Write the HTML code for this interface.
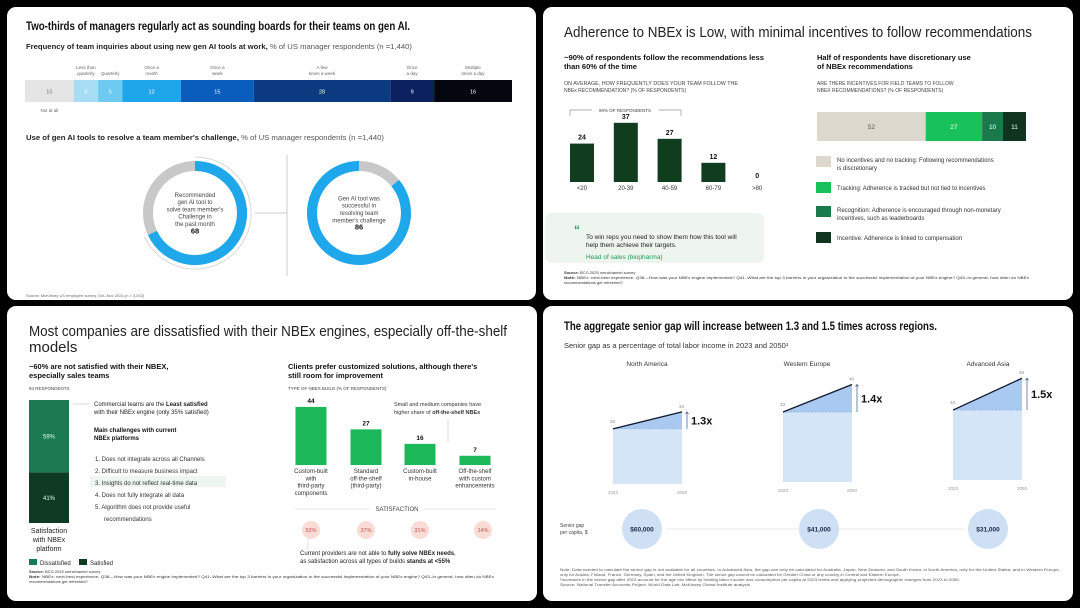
<!DOCTYPE html>
<html><head><meta charset="utf-8"><style>
html,body{margin:0;padding:0;background:#000;}
svg{display:block;font-family:"Liberation Sans",sans-serif;}
</style></head><body>
<svg id="s" width="1080" height="608" viewBox="0 0 1080 608" xmlns="http://www.w3.org/2000/svg">
<rect x="0" y="0" width="1080" height="608" fill="#000"/>
<rect x="7" y="7" width="529" height="293" rx="9" fill="#fff"/>
<rect x="543" y="7" width="530" height="293" rx="9" fill="#fff"/>
<rect x="7" y="306" width="530" height="295" rx="9" fill="#fff"/>
<rect x="543" y="306" width="530" height="295" rx="9" fill="#fff"/>

<!-- TL -->
<text x="26" y="30" font-size="11.5" font-weight="bold" fill="#111" textLength="384" lengthAdjust="spacingAndGlyphs">Two-thirds of managers regularly act as sounding boards for their teams on gen AI.</text>
<text x="26" y="49" font-size="7.5" fill="#222" textLength="386" lengthAdjust="spacingAndGlyphs"><tspan font-weight="bold">Frequency of team inquiries about using new gen AI tools at work,</tspan><tspan fill="#555">  % of US manager respondents  (n =1,440)</tspan></text>
<text x="26" y="140" font-size="7.5" fill="#222" textLength="358" lengthAdjust="spacingAndGlyphs"><tspan font-weight="bold">Use of gen AI tools to resolve a team member's challenge,</tspan><tspan fill="#555">  % of US manager respondents  (n =1,440)</tspan></text>
<line x1="287" y1="155" x2="287" y2="276" stroke="#ccc" stroke-width="1"/>
<line x1="255" y1="213" x2="287" y2="213" stroke="#ccc" stroke-width="1"/>
<text x="26" y="297" font-size="4" fill="#666">Source: McKinsey US employee survey, Oct–Nov 2024 (n = 3,002)</text>

<!-- TR -->
<text x="564" y="37" font-size="15" fill="#222" textLength="468" lengthAdjust="spacingAndGlyphs">Adherence to NBEx is Low, with minimal incentives to follow recommendations</text>
<text x="564" y="60" font-size="7.5" font-weight="bold" fill="#111" textLength="200" lengthAdjust="spacingAndGlyphs">~90% of respondents follow the recommendations less</text>
<text x="564" y="69" font-size="7.5" font-weight="bold" fill="#111">than 60% of the time</text>
<text x="564" y="85" font-size="5" fill="#444" textLength="174" lengthAdjust="spacingAndGlyphs">ON AVERAGE, HOW FREQUENTLY DOES YOUR TEAM FOLLOW THE</text>
<text x="564" y="92" font-size="5" fill="#444">NBEx RECOMMENDATION?   (% OF RESPONDENTS)</text>
<path d="M570 116 V110 H592 M659 110 H681 V116" fill="none" stroke="#999" stroke-width="0.7"/>
<text x="625" y="112" font-size="4.5" fill="#444" text-anchor="middle">90% OF RESPONDENTS</text>
<rect x="545" y="213" width="219" height="50" rx="6" fill="#eef5ef"/>
<text x="574" y="234" font-size="12" font-weight="bold" fill="#2a9d5a">“</text>
<text x="586" y="239" font-size="6.5" fill="#222">To win reps you need to show them how this tool will</text>
<text x="586" y="247" font-size="6.5" fill="#222">help them achieve their targets.</text>
<text x="586" y="259" font-size="6.5" fill="#1e9b50">Head of sales  (biopharma)</text>
<text x="817" y="60" font-size="7.5" font-weight="bold" fill="#111">Half of respondents have discretionary use</text>
<text x="817" y="69" font-size="7.5" font-weight="bold" fill="#111">of NBEx recommendations</text>
<text x="817" y="85" font-size="5" fill="#444">ARE THERE INCENTIVES FOR FIELD TEAMS TO FOLLOW</text>
<text x="817" y="92" font-size="5" fill="#444">NBEX RECOMMENDATIONS?    (% OF RESPONDENTS)</text>
<text x="564" y="274" font-size="4" fill="#333"><tspan font-weight="bold">Source:</tspan> BCG 2025 omnichannel survey</text>
<text x="564" y="279" font-size="4" fill="#333" textLength="465" lengthAdjust="spacingAndGlyphs"><tspan font-weight="bold">Note:</tspan> NBEx: next-best experience. Q38—How was your NBEx engine implemented? Q41–What are the top 3 barriers in your organization to the successful implementation of your NBEx engine? Q43–In general, how often do NBEx</text>
<text x="564" y="284" font-size="4" fill="#333">recommendations get refreshed?</text>

<!-- BL -->
<text x="29" y="336" font-size="15" fill="#222" textLength="478" lengthAdjust="spacingAndGlyphs">Most companies are dissatisfied with their NBEx engines, especially off-the-shelf</text>
<text x="29" y="352" font-size="15" fill="#222">models</text>
<text x="29" y="369" font-size="7.5" font-weight="bold" fill="#111">~60% are not satisfied with their NBEX,</text>
<text x="29" y="378" font-size="7.5" font-weight="bold" fill="#111">especially sales teams</text>
<text x="29" y="390" font-size="4.5" fill="#444">94 RESPONDENTS</text>
<text x="49" y="533" font-size="7" fill="#222" text-anchor="middle">Satisfaction</text>
<text x="49" y="542" font-size="7" fill="#222" text-anchor="middle">with NBEx</text>
<text x="49" y="551" font-size="7" fill="#222" text-anchor="middle">platform</text>
<rect x="29" y="559" width="8" height="6" fill="#1c7a52"/>
<text x="40" y="565" font-size="6" fill="#222">Dissatisfied</text>
<rect x="79" y="559" width="8" height="6" fill="#0f3b22"/>
<text x="90" y="565" font-size="6" fill="#222">Satisfied</text>
<line x1="73" y1="404" x2="89" y2="404" stroke="#ccc" stroke-width="0.7"/>
<text x="94" y="406" font-size="6" fill="#222">Commercial teams are the <tspan font-weight="bold">Least satisfied</tspan></text>
<text x="94" y="414" font-size="6" fill="#222">with their NBEx engine   (only 35% satisfied)</text>
<text x="94" y="432" font-size="6" font-weight="bold" fill="#111">Main challenges with current</text>
<text x="94" y="440" font-size="6" font-weight="bold" fill="#111">NBEx platforms</text>
<rect x="90" y="476" width="136" height="11" fill="#eef6ef"/>
<g font-size="6" fill="#333">
<text x="95" y="461">1.  Does not integrate across all Channels</text>
<text x="95" y="473">2.  Difficult to measure business impact</text>
<text x="95" y="485">3.  Insights do not reflect real-time data</text>
<text x="95" y="497">4.  Does not fully integrate all data</text>
<text x="95" y="509">5.  Algorithm does not provide useful</text>
<text x="104" y="521">recommendations</text>
</g>
<text x="288" y="369" font-size="7.5" font-weight="bold" fill="#111">Clients prefer customized solutions, although there's</text>
<text x="288" y="378" font-size="7.5" font-weight="bold" fill="#111">still room for improvement</text>
<text x="288" y="390" font-size="4.5" fill="#444">TYPE OF NBEX BUILD   (% OF RESPONDENTS)</text>
<text x="394" y="406" font-size="5.5" fill="#333">Small and medium companies have</text>
<text x="394" y="414" font-size="5.5" fill="#333">higher share of <tspan font-weight="bold">off-the-shelf NBEx</tspan></text>
<line x1="448" y1="420" x2="448" y2="442" stroke="#ccc" stroke-width="0.7"/>
<line x1="295" y1="509" x2="370" y2="509" stroke="#ddd" stroke-width="0.8"/>
<line x1="424" y1="509" x2="496" y2="509" stroke="#ddd" stroke-width="0.8"/>
<text x="397" y="511" font-size="6" fill="#444" text-anchor="middle">SATISFACTION</text>
<line x1="308" y1="538" x2="308" y2="550" stroke="#ccc" stroke-width="0.6"/>
<text x="300" y="555" font-size="6" fill="#222">Current providers are not able to <tspan font-weight="bold">fully solve NBEx needs</tspan>,</text>
<text x="300" y="563" font-size="6" fill="#222">as satisfaction across all types of builds <tspan font-weight="bold">stands at &lt;55%</tspan></text>
<text x="29" y="573" font-size="4" fill="#333"><tspan font-weight="bold">Source:</tspan> BCG 2025 omnichannel survey</text>
<text x="29" y="578" font-size="4" fill="#333" textLength="465" lengthAdjust="spacingAndGlyphs"><tspan font-weight="bold">Note:</tspan> NBEx: next-best experience. Q38—How was your NBEx engine implemented? Q41–What are the top 3 barriers in your organization to the successful implementation of your NBEx engine? Q43–In general, how often do NBEx</text>
<text x="29" y="583" font-size="4" fill="#333">recommendations get refreshed?</text>

<!-- BR -->
<text x="564" y="330" font-size="12" font-weight="bold" fill="#111" textLength="373" lengthAdjust="spacingAndGlyphs">The aggregate senior gap will increase between 1.3 and 1.5 times across regions.</text>
<text x="564" y="348" font-size="7.5" fill="#333">Senior gap as a percentage of total labor income in 2023 and 2050¹</text>
<text x="560" y="527" font-size="5" fill="#444">Senior gap</text>
<text x="560" y="534" font-size="5" fill="#444">per capita,   $</text>
<g font-size="3.8" fill="#555">
<text x="560" y="571" textLength="500" lengthAdjust="spacingAndGlyphs">Note: Data needed to calculate the senior gap is not available for all countries. In Advanced Asia, the gap can only be calculated for Australia, Japan, New Zealand, and South Korea; in North America, only for the United States; and in Western Europe,</text>
<text x="560" y="576" textLength="340" lengthAdjust="spacingAndGlyphs">only for Austria, Finland, France, Germany, Spain, and the United Kingdom. The senior gap cannot be calculated for Greater China or any country in Central and Eastern Europe.</text>
<text x="560" y="581" textLength="400" lengthAdjust="spacingAndGlyphs">¹Increases in the senior gap after 2023 account for the age mix effect by holding labor income and consumption per capita at 2023 levels and applying projected demographic changes from 2023 to 2050.</text>
<text x="560" y="586" textLength="190" lengthAdjust="spacingAndGlyphs">Source: National Transfer Accounts Project; World Data Lab; McKinsey Global Institute analysis</text>
</g>
</svg>
<script>
// ---- data ----
const freqCats = ['Not at all','Less than quarterly','Quarterly','Once a month','Once a week','A few times a week','Once a day','Multiple times a day'];
const freqVals = [10,5,5,12,15,28,9,16];
const donutLabels = ['Recommended gen AI tool to solve team member\'s Challenge in the past month','Gen AI tool was successful in resolving team member\'s challenge'];
const donutVals = [68,86];
const adhCats = ['<20','20-39','40-59','60-79','>80'];
const adhVals = [24,37,27,12,0];
const incCats = ['No incentives and no tracking: Following recommendations is discretionary','Tracking: Adherence is tracked but not tied to incentives','Recognition: Adherence is encouraged through non-monetary incentives, such as leaderboards','Incentive: Adherence is linked to compensation'];
const incVals = [52,27,10,11];
const satCats = ['Dissatisfied','Satisfied'];
const satVals = [59,41];
const buildCats = ['Custom-built with third-party components','Standard off-the-shelf (third-party)','Custom-built in-house','Off-the-shelf with custom enhancements'];
const buildVals = [44,27,16,7];
const buildSat = [52,37,31,14];
const regions = ['North America','Western Europe','Advanced Asia'];
const gap2023 = [26,33,33];
const gap2050 = [34,46,48];
const perCapita = [60000,41000,31000];

const NS='http://www.w3.org/2000/svg';
const svg=document.getElementById('s');
function mk(tag,a){const e=document.createElementNS(NS,tag);for(const k in a)e.setAttribute(k,a[k]);svg.appendChild(e);return e;}
function txt(x,y,s,a){const e=mk('text',Object.assign({x:x,y:y},a));e.textContent=s;return e;}
function lines(x,y,arr,lh,a,name){arr.forEach((s,i)=>{const e=txt(x,y+i*lh,s,a);

});}

// ---- TL stacked bar ----
const fx0=25,fw=487,fTot=freqVals.reduce((a,b)=>a+b,0);
const fx=v=>fx0+v/fTot*fw;
const fColors=['#e4e4e4','#a6dcf4','#6dcaf0','#1fa6ea','#0a5cbd','#0b3a80','#0c2160','#05060f'];
const fLab=[['Not at all'],['Less than','quarterly'],['Quarterly'],['Once a','month'],['Once a','week'],['A few','times a week'],['Once','a day'],['Multiple','times a day']];
let cum=0;
freqVals.forEach((v,i)=>{
  const x=fx(cum),w=fx(cum+v)-x;
  const r=mk('rect',{x:x,y:80,width:w,height:22,fill:fColors[i]});
  
  
  const t=txt(x+w/2,93.5,String(v),{'font-size':5.5,'text-anchor':'middle',fill:i==0?'#777':'#fff'});
  
  
  if(i==0){lines(x+w/2,112,fLab[i],6,{'font-size':4.5,'text-anchor':'middle',fill:'#666'},'frequency-label');}
  else if(i==2){lines(x+w/2,75,fLab[i],6,{'font-size':4.5,'text-anchor':'middle',fill:'#666'},'frequency-label');}
  else{lines(x+w/2,69,fLab[i],6,{'font-size':4.5,'text-anchor':'middle',fill:'#666'},'frequency-label');}
  cum+=v;
});

// ---- TL donuts ----
const dCx=[195,359],dCy=213,dR=47;
function arc(cx,cy,r,a0,a1){const p=a=>[cx+r*Math.sin(a*2*Math.PI),cy-r*Math.cos(a*2*Math.PI)];const s=p(a0),e=p(a1);const lg=(a1-a0)>0.5?1:0;return `M${s[0]} ${s[1]} A${r} ${r} 0 ${lg} 1 ${e[0]} ${e[1]}`;}
const dText=[['Recommended','gen AI tool to','solve team member\'s','Challenge in','the past month'],['Gen AI tool was','successful in','resolving team','member\'s challenge']];
donutVals.forEach((v,i)=>{
  const f=v/100;
  const g=mk('circle',{cx:dCx[i],cy:dCy,r:dR,fill:'none',stroke:'#c8c8c8','stroke-width':10});
  
  
  const start=i==0?0:1-f;
  const b=mk('path',{d:arc(dCx[i],dCy,dR,start,start+f-0.0001),fill:'none',stroke:'#1ea7ea','stroke-width':10});
  
  
  if(i==0){const o=mk('path',{d:arc(dCx[i],dCy,dR+9,0,f),fill:'none',stroke:'#d8d8d8','stroke-width':1});
  
  }
  const tl=dText[i];const y0=dCy-(tl.length*7.3)/2+2;
  lines(dCx[i],y0,tl,7.3,{'font-size':6,'text-anchor':'middle',fill:'#444'},'donut-label');
  const vt=txt(dCx[i],y0+tl.length*7.3,String(v),{'font-size':7.5,'font-weight':'bold','text-anchor':'middle',fill:'#111'});
  
  
});

// ---- TR column chart ----
const aBase=182,aK=1.6,aX0=582,aStep=43.8,aW=24;
adhVals.forEach((v,i)=>{
  const cx=aX0+i*aStep,h=v*aK;
  if(v>0){const r=mk('rect',{x:cx-aW/2,y:aBase-h,width:aW,height:h,fill:'#0f3d1e'});
  
  }
  const t=txt(cx,aBase-h-4,String(v),{'font-size':7,'font-weight':'bold','text-anchor':'middle',fill:'#111'});
  
  
  const c=txt(cx,aBase+8,adhCats[i],{'font-size':6,'text-anchor':'middle',fill:'#333'});
  
  
});

// ---- TR incentives stacked bar ----
const iX0=817,iW=209,iTot=incVals.reduce((a,b)=>a+b,0);
const iColors=['#ddd8cd','#19c15a','#1a7a4c','#0f3520'];
const iLeg=[['No incentives and no tracking: Following recommendations','is discretionary'],['Tracking: Adherence is tracked but not tied to incentives'],['Recognition: Adherence is encouraged through non-monetary','incentives, such as leaderboards'],['Incentive: Adherence is linked to compensation']];
const iLegY=[162,188,212,238];
cum=0;
incVals.forEach((v,i)=>{
  const x=iX0+cum/iTot*iW,w=v/iTot*iW;
  const r=mk('rect',{x:x,y:112,width:w,height:29,fill:iColors[i]});
  
  
  const t=txt(x+w/2,129,String(v),{'font-size':6.5,'text-anchor':'middle',fill:i==0?'#555':'#fff'});
  
  
  const s=mk('rect',{x:816,y:iLegY[i]-6,width:15,height:11,fill:iColors[i]});
  
  
  lines(837,iLegY[i]+(iLeg[i].length==1?2:0),iLeg[i],8,{'font-size':6,fill:'#333'},'incentive-legend-label');
  cum+=v;
});

// ---- BL satisfaction vertical bar ----
const sTop=400,sH=123,sTot=satVals[0]+satVals[1];
const sColors=['#1c7a52','#0f3b22'];
cum=0;
satVals.forEach((v,i)=>{
  const y=sTop+cum/sTot*sH,h=v/sTot*sH;
  const r=mk('rect',{x:29,y:y,width:40,height:h,fill:sColors[i]});
  
  
  const t=txt(49,y+h/2+2,v+'%',{'font-size':6,'text-anchor':'middle',fill:'#dfe'});
  
  
  cum+=v;
});

// ---- BL build bars ----
const bBase=465,bK=1.32,bX=[311,366,420,475],bW=31;
const bLab=[['Custom-built','with','third-party','components'],['Standard','off-the-shelf','(third-party)'],['Custom-built','in-house'],['Off-the-shelf','with custom','enhancements']];
const satX=[311,366,420,483];
buildVals.forEach((v,i)=>{
  const h=v*bK;
  const r=mk('rect',{x:bX[i]-bW/2,y:bBase-h,width:bW,height:h,fill:'#1bb85a'});
  
  
  const t=txt(bX[i],bBase-h-4,String(v),{'font-size':6.5,'font-weight':'bold','text-anchor':'middle',fill:'#111'});
  
  
  lines(bX[i],473,bLab[i],7.3,{'font-size':6,'text-anchor':'middle',fill:'#333'},'build-category');
  const c=mk('circle',{cx:satX[i],cy:530,r:9,fill:'#f9dcd6'});
  
  
  const st=txt(satX[i],532,buildSat[i]+'%',{'font-size':5.5,'text-anchor':'middle',fill:'#c0504d'});
  
  
});

// ---- BR senior gap areas ----
const gX0=[613,783,953],gW=69,gBase=[484,482,480],gK=2.12;
const gCx=[647,807,988],pcX=[642,819,988];
regions.forEach((rn,i)=>{
  const x0=gX0[i],x1=x0+gW,b=gBase[i],y0=b-gap2023[i]*gK,y1=b-gap2050[i]*gK;
  const lab=txt(gCx[i],366,rn,{'font-size':6.5,'text-anchor':'middle',fill:'#333'});
  
  
  const base=mk('rect',{x:x0,y:y0,width:gW,height:b-y0,fill:'#d5e5f8'});
  
  
  const tri=mk('path',{d:`M${x0} ${y0} L${x1} ${y1} L${x1} ${y0} Z`,fill:'#a9c9f1'});
  
  
  const d=mk('line',{x1:x0,y1:y0,x2:x1,y2:y0,stroke:'#7fa6d6','stroke-width':0.6,'stroke-dasharray':'2 1.5'});
  
  
  const ln=mk('line',{x1:x0,y1:y0,x2:x1,y2:y1,stroke:'#111a2e','stroke-width':1.3});
  
  
  const ar=mk('path',{d:`M${x1+5} ${y0} V${y1} M${x1+3.5} ${y1+2} L${x1+5} ${y1} L${x1+6.5} ${y1+2}`,fill:'none',stroke:'#3a5a8a','stroke-width':0.7});
  
  
  const m=txt(x1+9,(y0+y1)/2+4,(gap2050[i]/gap2023[i]).toFixed(1)+'x',{'font-size':11,'font-weight':'bold',fill:'#111'});
  
  
  const v0=txt(x0-3,y0-6,String(gap2023[i]),{'font-size':4.5,fill:'#888'});
  
  
  const v1=txt(x1-3,y1-4,String(gap2050[i]),{'font-size':4.5,fill:'#888'});
  
  
  const ya=txt(x0,b+10,'2023',{'font-size':4.5,'text-anchor':'middle',fill:'#999'});
  
  
  const yb=txt(x1,b+10,'2050',{'font-size':4.5,'text-anchor':'middle',fill:'#999'});
  
  
});
const conn=mk('line',{x1:pcX[0]+24,y1:529,x2:pcX[2]-24,y2:529,stroke:'#e2e2e2','stroke-width':0.8});


perCapita.forEach((v,i)=>{
  const c=mk('circle',{cx:pcX[i],cy:529,r:20,fill:'#cfe0f5'});
  
  
  const t=txt(pcX[i],531.5,'$'+v.toLocaleString('en-US'),{'font-size':6.5,'font-weight':'bold','text-anchor':'middle',fill:'#1b2a4a'});
  
  
});
</script>
</body></html>
